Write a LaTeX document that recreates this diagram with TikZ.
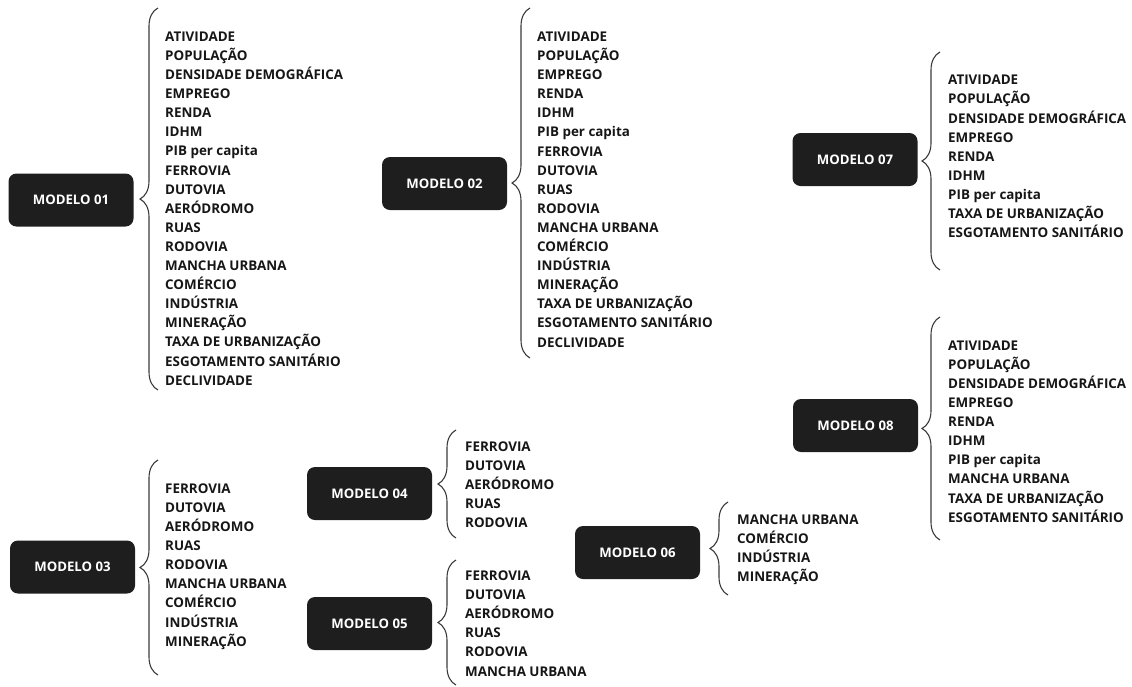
\documentclass[tikz,border=0pt]{standalone}
\usepackage{fontspec}
\setmainfont{Open Sans}
\usepackage{tikz}
\usetikzlibrary{decorations.pathreplacing}
\definecolor{boxfill}{HTML}{1E1E1E}
\definecolor{ink}{HTML}{161616}
\definecolor{brcgray}{HTML}{3A3A3A}
\tikzset{
	box/.style={rectangle, fill=boxfill, rounded corners=8pt, minimum width=125pt,
		minimum height=53pt, text=white, font=\fontsize{13.2}{16}\selectfont\bfseries},
	lst/.style={anchor=west, inner sep=0pt, align=left, text=ink,
		font=\fontsize{13.4}{19.1}\selectfont\bfseries},
	brc/.style={decorate, decoration={brace, amplitude=18pt}, draw=brcgray, line width=1.1pt},
}

\begin{document}
\begin{tikzpicture}[x=1pt, y=-1pt]
			\useasboundingbox (0,0) rectangle (1132,686);
			\node[box] (mod01) at (71,200) {MODELO 01};
			\node[box] (mod02) at (444.5,183.5) {MODELO 02};
			\node[box] (mod03) at (72.5,567) {MODELO 03};
			\node[box] (mod04) at (369.5,493.5) {MODELO 04};
			\node[box] (mod05) at (369.5,623.5) {MODELO 05};
			\node[box] (mod06) at (637.5,552.5) {MODELO 06};
			\node[box] (mod07) at (855,159.5) {MODELO 07};
			\node[box] (mod08) at (855.5,425.5) {MODELO 08};
			
			\node[lst] (lst01) at (165,208.5) {ATIVIDADE\\POPULAÇÃO\\DENSIDADE DEMOGRÁFICA\\EMPREGO\\RENDA\\IDHM\\PIB per capita\\FERROVIA\\DUTOVIA\\AERÓDROMO\\RUAS\\RODOVIA\\MANCHA URBANA\\COMÉRCIO\\INDÚSTRIA\\MINERAÇÃO\\TAXA DE URBANIZAÇÃO\\ESGOTAMENTO SANITÁRIO\\DECLIVIDADE};
			\node[lst] (lst02) at (537,189.5) {ATIVIDADE\\POPULAÇÃO\\EMPREGO\\RENDA\\IDHM\\PIB per capita\\FERROVIA\\DUTOVIA\\RUAS\\RODOVIA\\MANCHA URBANA\\COMÉRCIO\\INDÚSTRIA\\MINERAÇÃO\\TAXA DE URBANIZAÇÃO\\ESGOTAMENTO SANITÁRIO\\DECLIVIDADE};
			\node[lst] (lst03) at (165,566.5) {FERROVIA\\DUTOVIA\\AERÓDROMO\\RUAS\\RODOVIA\\MANCHA URBANA\\COMÉRCIO\\INDÚSTRIA\\MINERAÇÃO};
			\node[lst] (lst04) at (465,484.5) {FERROVIA\\DUTOVIA\\AERÓDROMO\\RUAS\\RODOVIA};
			\node[lst] (lst05) at (465,623.5) {FERROVIA\\DUTOVIA\\AERÓDROMO\\RUAS\\RODOVIA\\MANCHA URBANA};
			\node[lst] (lst06) at (737,550) {MANCHA URBANA\\COMÉRCIO\\INDÚSTRIA\\MINERAÇÃO};
			\node[lst] (lst07) at (948,156.5) {ATIVIDADE\\POPULAÇÃO\\DENSIDADE DEMOGRÁFICA\\EMPREGO\\RENDA\\IDHM\\PIB per capita\\TAXA DE URBANIZAÇÃO\\ESGOTAMENTO SANITÁRIO};
			\node[lst] (lst08) at (948,431.5) {ATIVIDADE\\POPULAÇÃO\\DENSIDADE DEMOGRÁFICA\\EMPREGO\\RENDA\\IDHM\\PIB per capita\\MANCHA URBANA\\TAXA DE URBANIZAÇÃO\\ESGOTAMENTO SANITÁRIO};
			
			\coordinate (b01t) at (158,8);   \coordinate (b01b) at (158,390);
			\coordinate (b02t) at (530,8);   \coordinate (b02b) at (530,358);
			\coordinate (b03t) at (158,460); \coordinate (b03b) at (158,675);
			\coordinate (b04t) at (456,430); \coordinate (b04b) at (456,538);
			\coordinate (b05t) at (456,560); \coordinate (b05b) at (456,685);
			\coordinate (b06t) at (728,502); \coordinate (b06b) at (728,595);
			\coordinate (b07t) at (940,52);  \coordinate (b07b) at (940,270);
			\coordinate (b08t) at (940,317); \coordinate (b08b) at (940,540);
			
			\draw[brc] (b01b) -- (b01t);
			\draw[brc] (b02b) -- (b02t);
			\draw[brc] (b03b) -- (b03t);
			\draw[brc] (b04b) -- (b04t);
			\draw[brc] (b05b) -- (b05t);
			\draw[brc] (b06b) -- (b06t);
			\draw[brc] (b07b) -- (b07t);
			\draw[brc] (b08b) -- (b08t);
		\end{tikzpicture}
\end{document}
